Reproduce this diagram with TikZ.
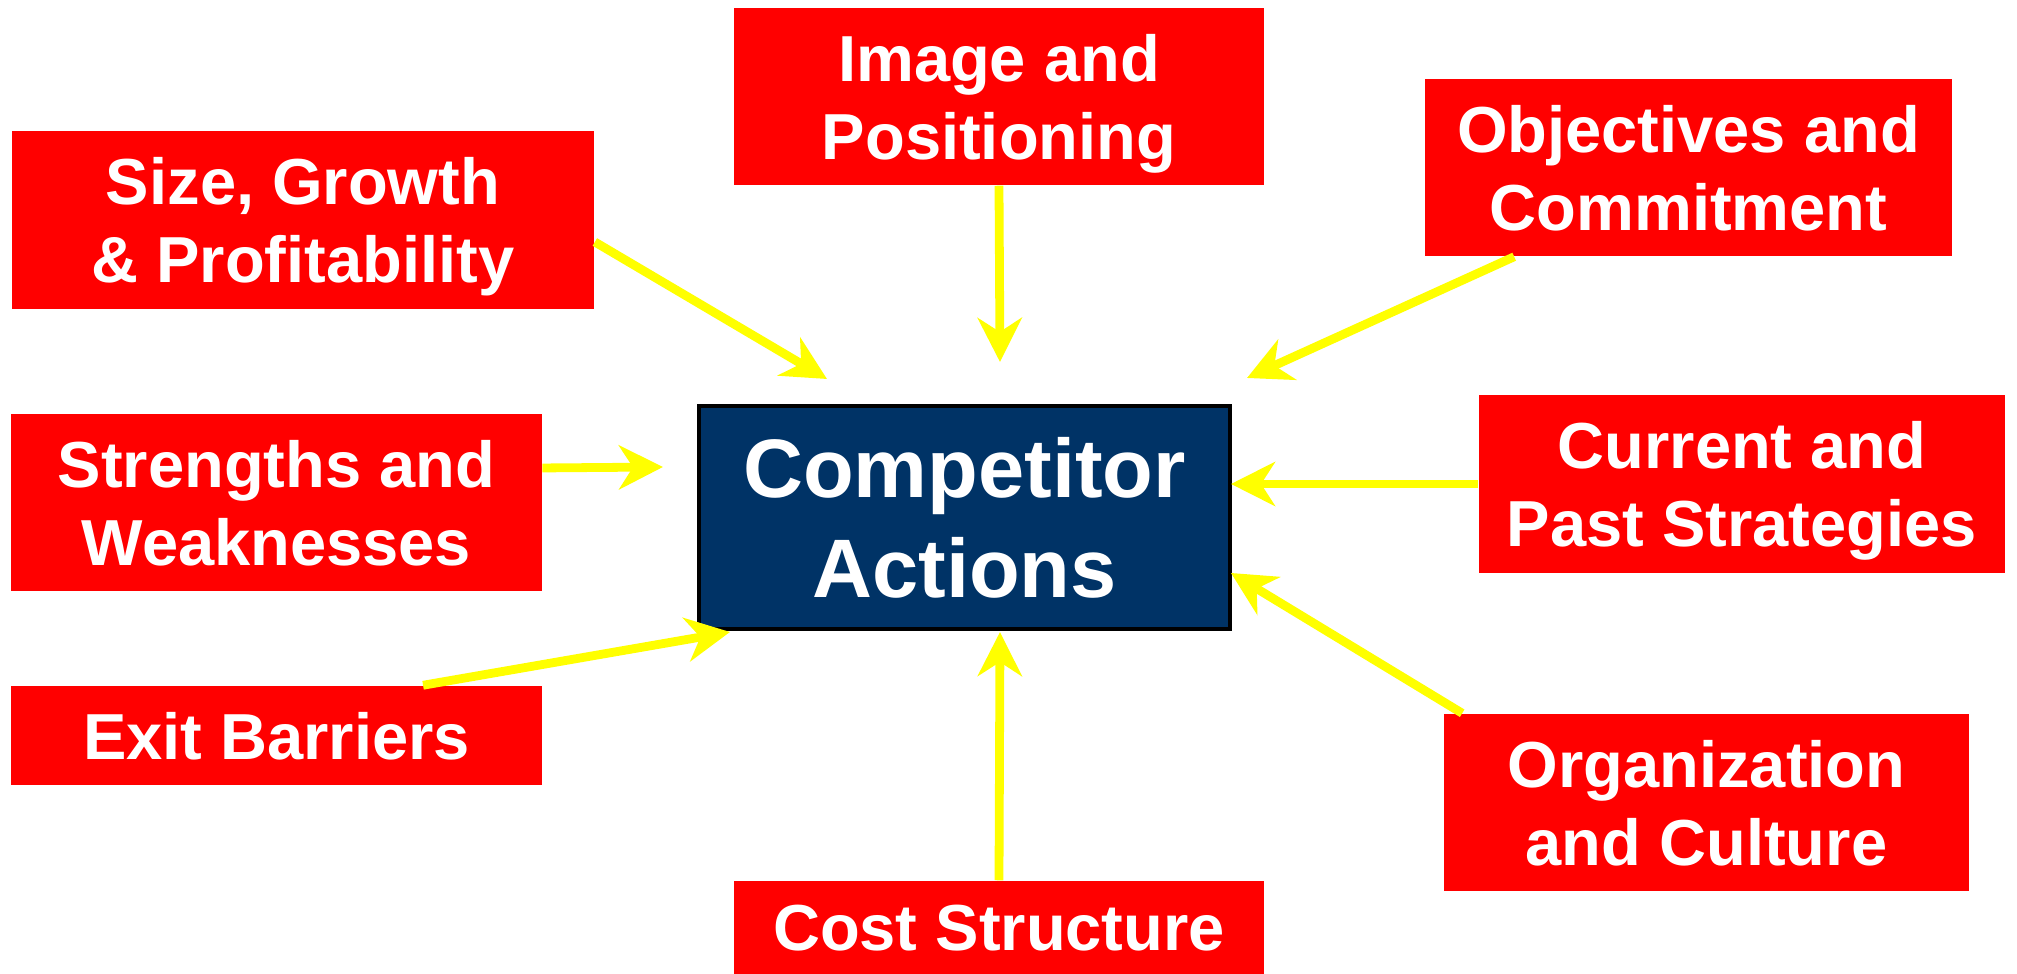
\documentclass[tikz,border=0pt]{standalone}
\usepackage{fontspec}
\setmainfont{Liberation Sans}
\usetikzlibrary{arrows.meta}

\definecolor{boxred}{RGB}{255,0,0}
\definecolor{navyblue}{RGB}{0,51,102}
\definecolor{feedyellow}{RGB}{255,255,0}

\tikzset{
  factor/.style={fill=boxred, text=white, font=\bfseries\fontsize{18.5}{22.2}\selectfont,
    align=center, inner sep=0pt, text depth=0pt, minimum width=5.3cm, minimum height=1.77cm},
  hub/.style={fill=navyblue, draw=black, line width=1.1pt, text=white,
    font=\bfseries\fontsize{23.6}{28.2}\selectfont, align=center, inner sep=0pt,
    text depth=0pt, minimum width=5.31cm, minimum height=2.23cm},
  feed/.style={draw=feedyellow, line width=2.5pt,
    -{Stealth[length=0.44cm, width=0.44cm, inset=0.14cm]}}
}

\begin{document}
\begin{tikzpicture}[x=0.01cm, y=-0.01cm]

        % Page frame
        \useasboundingbox (0,0) rectangle (2017,974);

        % Centre box
        \node[hub] (actions) at (964.5,517.5) {Competitor\\Actions};

        % Factor boxes
        \node[factor] (image) at (999,96.5) {Image and\\Positioning};
        \node[factor, minimum width=5.82cm] (size) at (303,220) {Size, Growth\\\& Profitability};
        \node[factor, minimum width=5.27cm] (objectives) at (1688.5,167.5) {Objectives and\\Commitment};
        \node[factor] (strengths) at (276.5,502.5) {Strengths and\\Weaknesses};
        \node[factor, minimum width=5.26cm] (current) at (1742,484) {Current and\\Past Strategies};
        \node[factor, minimum height=0.99cm] (exit) at (276.5,735.5) {Exit Barriers};
        \node[factor, minimum width=5.25cm] (organization) at (1706.5,802.5) {Organization\\and Culture};
        \node[factor, minimum height=0.93cm] (cost) at (999,927.5) {Cost Structure};

        % Arrow tips, short of the centre box
        \coordinate (toImage) at (1000,362);
        \coordinate (toSize) at (827,379);
        \coordinate (toObjectives) at (1247,378);
        \coordinate (toStrengths) at (663,467);
        \coordinate (toCurrent) at (1231,484);
        \coordinate (toExit) at (730,632);
        \coordinate (toOrganization) at (1231,573);
        \coordinate (toCost) at (1000,632);

        % Arrows
        \draw[feed] (image.south) -- (toImage);
        \draw[feed] ([yshift=-0.22cm]size.east) -- (toSize);
        \draw[feed] ([xshift=0.9cm]objectives.south west) -- (toObjectives);
        \draw[feed] ([yshift=0.345cm]strengths.east) -- (toStrengths);
        \draw[feed] (current.west) -- (toCurrent);
        \draw[feed] ([xshift=1.465cm]exit.north) -- (toExit);
        \draw[feed] ([xshift=0.19cm]organization.north west) -- (toOrganization);
        \draw[feed] (cost.north) -- (toCost);

\end{tikzpicture}
\end{document}
